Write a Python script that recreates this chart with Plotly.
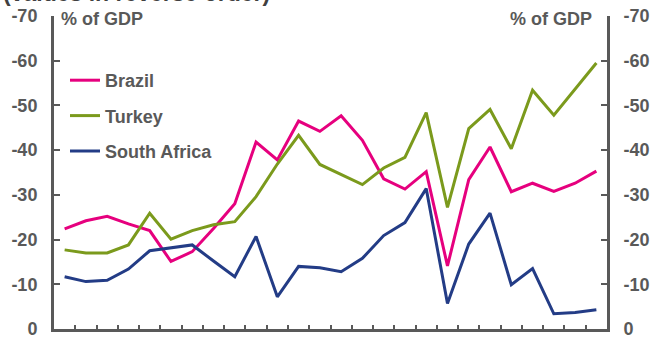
import plotly.graph_objects as go

years = [1990, 1991, 1992, 1993, 1994, 1995, 1996, 1997, 1998, 1999, 2000, 2001, 2002,
         2003, 2004, 2005, 2006, 2007, 2008, 2009, 2010, 2011, 2012, 2013, 2014, 2015]

brazil = [-22.4, -24.2, -25.2, -23.5, -22.0, -15.1, -17.3, -22.5, -28.0, -41.8, -37.8, -46.5, -44.2,
          -47.7, -42.2, -33.6, -31.3, -35.2, -14.1, -33.4, -40.7, -30.7, -32.6, -30.8, -32.6, -35.3]
turkey = [-17.7, -17.0, -17.0, -18.8, -25.9, -20.1, -22.0, -23.3, -24.0, -29.6, -36.9, -43.3, -36.8,
          -34.6, -32.3, -36.0, -38.4, -48.4, -27.2, -44.8, -49.1, -40.3, -53.4, -47.8, -53.7, -59.5]
south_africa = [-11.7, -10.6, -10.9, -13.4, -17.5, -18.2, -18.8, -15.2, -11.7, -20.7, -7.2, -14.0, -13.7,
                -12.8, -15.8, -20.9, -23.8, -31.4, -5.7, -19.0, -25.9, -9.9, -13.5, -3.4, -3.7, -4.3]

y_ticks = [0, -10, -20, -30, -40, -50, -60, -70]

FONT = "Liberation Sans, Arial, sans-serif"
GREY = "#595959"
FS = 18

fig = go.Figure()
series = [("Brazil", brazil, "#E6007E"),
          ("Turkey", turkey, "#7B9A1C"),
          ("South Africa", south_africa, "#233C86")]
for name, vals, col in series:
    fig.add_trace(go.Scatter(x=years, y=vals, name=name, mode="lines",
                             line=dict(color=col, width=3), legendgroup=name))
# invisible trace to hold the right axis
fig.add_trace(go.Scatter(x=years, y=brazil, yaxis="y2", mode="lines",
                         line=dict(width=0), showlegend=False, hoverinfo="skip", opacity=0))

yax = dict(range=[0, -70], tickvals=y_ticks, ticktext=[str(v) for v in y_ticks],
           ticks="inside", ticklen=6, tickwidth=2, tickcolor=GREY,
           showline=True, linewidth=3, linecolor=GREY, showgrid=False, zeroline=False,
           tickfont=dict(family=FONT, size=FS, color=GREY, weight="bold"),
           ticklabelstandoff=10, ticklabeloverflow="allow", automargin=False)

fig.update_layout(
    width=654, height=338,
    margin=dict(l=54, r=47, t=16, b=9, autoexpand=False),
    paper_bgcolor="white", plot_bgcolor="white",
    showlegend=True,
    xaxis=dict(range=[years[0] - 0.5, years[-1] + 0.5], tick0=years[0] - 0.5, dtick=1,
               ticks="inside", ticklen=4, tickwidth=2, tickcolor=GREY,
               showticklabels=False, showline=True, linewidth=3, linecolor=GREY,
               showgrid=False, zeroline=False, automargin=False),
    yaxis=yax,
    yaxis2=dict(yax, overlaying="y", side="right"),
    legend=dict(x=(65 - 54) / 553, y=1 - (62 - 16) / 313, xanchor="left", yanchor="top",
                bgcolor="rgba(0,0,0,0)", tracegroupgap=9,
                font=dict(family=FONT, size=FS, color=GREY, weight="bold")),
    annotations=[
        dict(text="(values in reverse order)", xref="paper", yref="paper",
             x=(1 - 54) / 553, y=1 + 23 / 313, xanchor="left", yanchor="middle",
             showarrow=False, font=dict(family=FONT, size=23, color="#404040", weight="bold")),
        dict(text="% of GDP", xref="paper", yref="paper",
             x=(59 - 54) / 553, y=1 - 3.5 / 313, xanchor="left", yanchor="middle",
             showarrow=False, font=dict(family=FONT, size=FS, color=GREY, weight="bold")),
        dict(text="% of GDP", xref="paper", yref="paper",
             x=(594 - 54) / 553, y=1 - 3.5 / 313, xanchor="right", yanchor="middle",
             showarrow=False, font=dict(family=FONT, size=FS, color=GREY, weight="bold")),
    ],
)

fig.write_html("out.html")
